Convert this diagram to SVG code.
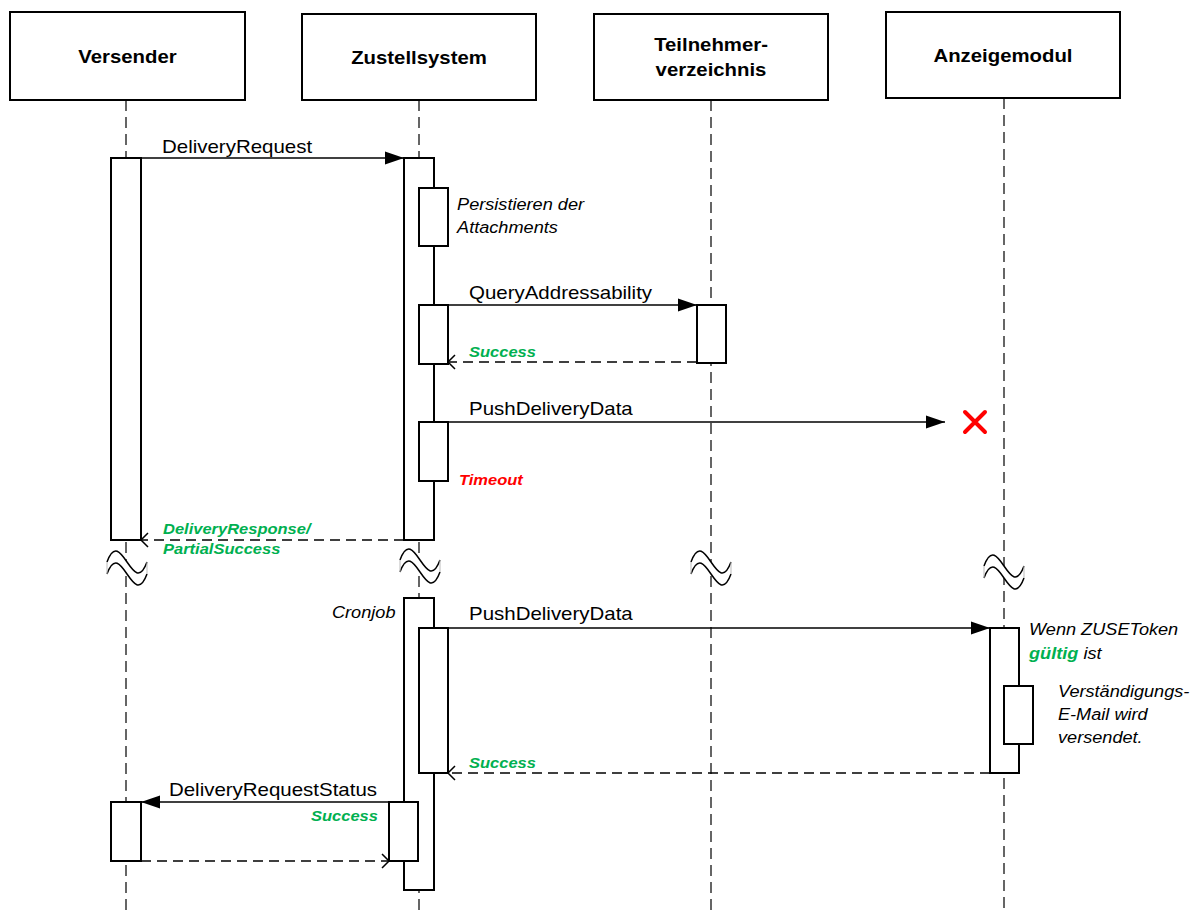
<svg xmlns="http://www.w3.org/2000/svg" width="1198" height="911" viewBox="0 0 1198 911">
<style>
.hdr{fill:#fff;stroke:#000;stroke-width:2}
.htxt{font-family:"Liberation Sans",Arial,sans-serif;font-weight:bold;font-size:18.5px;fill:#000;text-anchor:middle}
.life{stroke:#333;stroke-width:1.5;stroke-dasharray:11,6;fill:none}
.act{fill:#fff;stroke:#000;stroke-width:2}
.msg{stroke:#000;stroke-width:1.5;fill:none}
.ret{stroke:#000;stroke-width:1.5;fill:none;stroke-dasharray:10,6}
.mtxt{font-family:"Liberation Sans",Arial,sans-serif;font-size:18.6px;fill:#000}
.note{font-family:"Liberation Sans",Arial,sans-serif;font-size:16.5px;font-style:italic;fill:#000}
.ok{font-family:"Liberation Sans",Arial,sans-serif;font-size:15px;font-style:italic;font-weight:bold;fill:#00B050}
.err{font-family:"Liberation Sans",Arial,sans-serif;font-size:15px;font-style:italic;font-weight:bold;fill:#FF0000}
</style>
<defs>
<marker id="filled" markerUnits="userSpaceOnUse" markerWidth="20" markerHeight="13" refX="19" refY="6.5" orient="auto" overflow="visible"><path d="M0,0 L19,6.5 L0,13 Z" fill="#000"/></marker>
<marker id="open" markerUnits="userSpaceOnUse" markerWidth="10" markerHeight="16" refX="8" refY="8" orient="auto" overflow="visible"><path d="M1,1 L8,8 L1,15" fill="none" stroke="#000" stroke-width="1.5"/></marker>
<g id="brk">
<path d="M-20,-6 C-6,-44 6,32 20,-6 L20,6 C6,44 -6,-32 -20,6 Z" fill="#fff" stroke="none"/>
<path d="M-20,-6 C-6,-44 6,32 20,-6" fill="none" stroke="#000" stroke-width="1.5"/>
<path d="M-20,6 C-6,-32 6,44 20,6" fill="none" stroke="#000" stroke-width="1.5"/>
<path d="M-20,-6 L-20,6 M20,-6 L20,6" stroke="#bbb" stroke-width="1"/>
</g>
</defs>
<rect width="1198" height="911" fill="#fff"/>

<g id="lifelines">
<line class="life" x1="126" y1="100" x2="126" y2="911"/>
<line class="life" x1="419" y1="100" x2="419" y2="911"/>
<line class="life" x1="711" y1="100" x2="711" y2="911"/>
<line class="life" x1="1004" y1="98" x2="1004" y2="911"/>
</g>

<g id="breaks">
<use href="#brk" x="127" y="568"/>
<use href="#brk" x="420" y="566"/>
<use href="#brk" x="711" y="568"/>
<use href="#brk" x="1004" y="572"/>
</g>

<g id="versender">
<rect class="hdr" x="10" y="12" width="235" height="88"/>
<text class="htxt" transform="scale(1.1 1)" x="115.9" y="63">Versender</text>
<rect class="act" x="111" y="158" width="30" height="382"/>
<rect class="act" x="111" y="802" width="30" height="59"/>
</g>

<g id="zustellsystem">
<rect class="hdr" x="302" y="14" width="234" height="86"/>
<text class="htxt" transform="scale(1.1 1)" x="380.9" y="64">Zustellsystem</text>
<rect class="act" x="404" y="158" width="30" height="382"/>
<rect class="act" x="419" y="188" width="29" height="58"/>
<rect class="act" x="419" y="305" width="29" height="59"/>
<rect class="act" x="419" y="422" width="29" height="59"/>
<rect class="act" x="404" y="598" width="30" height="292"/>
<rect class="act" x="419" y="628" width="29" height="145"/>
<rect class="act" x="389" y="802" width="29" height="59"/>
</g>

<g id="teilnehmerverzeichnis">
<rect class="hdr" x="594" y="14" width="234" height="86"/>
<text class="htxt" transform="scale(1.1 1)" x="646.4" y="51">Teilnehmer-</text>
<text class="htxt" transform="scale(1.1 1)" x="646.4" y="76">verzeichnis</text>
<rect class="act" x="697" y="305" width="29" height="58"/>
</g>

<g id="anzeigemodul">
<rect class="hdr" x="886" y="12" width="234" height="86"/>
<text class="htxt" transform="scale(1.1 1)" x="911.8" y="62">Anzeigemodul</text>
<rect class="act" x="990" y="628" width="29" height="145"/>
<rect class="act" x="1004" y="686" width="29" height="58"/>
</g>

<g id="connectors">
<line class="msg" x1="141" y1="158" x2="404" y2="158" marker-end="url(#filled)"/>
<line class="msg" x1="448" y1="305" x2="697" y2="305" marker-end="url(#filled)"/>
<line class="ret" x1="697" y1="362" x2="448" y2="362" marker-end="url(#open)"/>
<line class="msg" x1="448" y1="422" x2="945" y2="422" marker-end="url(#filled)"/>
<line class="ret" x1="404" y1="540" x2="141" y2="540" marker-end="url(#open)"/>
<line class="msg" x1="448" y1="628" x2="990" y2="628" marker-end="url(#filled)"/>
<line class="ret" x1="990" y1="773" x2="448" y2="773" marker-end="url(#open)"/>
<line class="msg" x1="389" y1="802" x2="141" y2="802" marker-end="url(#filled)"/>
<line class="ret" x1="141" y1="861" x2="389" y2="861" marker-end="url(#open)"/>
<path d="M965,412 L985,432 M985,412 L965,432" stroke="#FF0000" stroke-width="4" stroke-linecap="round"/>
</g>

<g id="labels">
<text class="mtxt" transform="scale(1.1 1)" x="147.3" y="153">DeliveryRequest</text>
<text class="mtxt" transform="scale(1.1 1)" x="426.4" y="299">QueryAddressability</text>
<text class="mtxt" transform="scale(1.1 1)" x="426.4" y="415">PushDeliveryData</text>
<text class="mtxt" transform="scale(1.1 1)" x="426.4" y="620">PushDeliveryData</text>
<text class="mtxt" transform="scale(1.1 1)" x="153.6" y="796">DeliveryRequestStatus</text>
<text class="note" transform="scale(1.1 1)" x="415.5" y="210">Persistieren der</text>
<text class="note" transform="scale(1.1 1)" x="415.5" y="233">Attachments</text>
<text class="note" transform="scale(1.1 1)" x="301.8" y="618">Cronjob</text>
<text class="note" transform="scale(1.1 1)" x="935.5" y="635">Wenn ZUSEToken</text>
<text class="note" transform="scale(1.1 1)" x="935.5" y="659"><tspan style="font-weight:bold;fill:#00B050">gültig</tspan> ist</text>
<text class="note" transform="scale(1.1 1)" x="961.8" y="697">Verständigungs-</text>
<text class="note" transform="scale(1.1 1)" x="961.8" y="720">E-Mail wird</text>
<text class="note" transform="scale(1.1 1)" x="961.8" y="743">versendet.</text>
<text class="ok" transform="scale(1.1 1)" x="426.4" y="357">Success</text>
<text class="err" transform="scale(1.1 1)" x="417.3" y="485">Timeout</text>
<text class="ok" transform="scale(1.1 1)" x="148.2" y="534">DeliveryResponse/</text>
<text class="ok" transform="scale(1.1 1)" x="148.2" y="554">PartialSuccess</text>
<text class="ok" transform="scale(1.1 1)" x="426.4" y="768">Success</text>
<text class="ok" transform="scale(1.1 1)" x="343.6" y="821" text-anchor="end">Success</text>
</g>
</svg>
